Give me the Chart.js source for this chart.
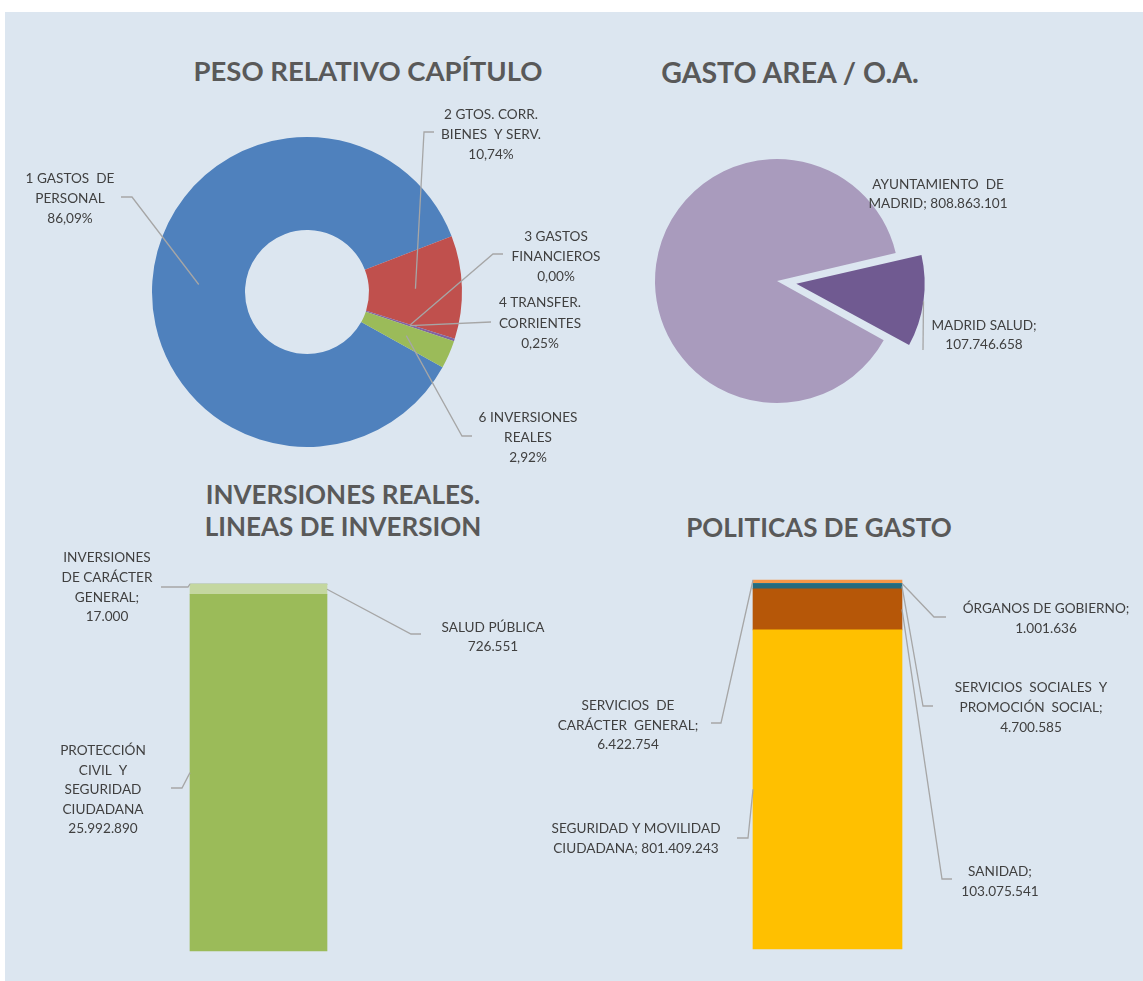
<!DOCTYPE html>
<html>
<head>
<meta charset="utf-8">
<script src="https://cdn.jsdelivr.net/npm/chart.js@4.4.0/dist/chart.umd.min.js"></script>
<style>
  body { margin: 0; width: 1143px; height: 981px; overflow: hidden; background: #fff; position: relative; }
  #panel { position: absolute; left: 5px; top: 12px; right: 0; bottom: 0; background: #dce6f0; }
  canvas { position: absolute; }
  .titulo { position: absolute; width: 500px; font: 700 27.5px Lato, sans-serif; line-height: 32px;
            color: #595959; text-align: center; white-space: nowrap; }
</style>
</head>
<body>
<div id="panel"></div>

<div class="titulo" style="left:118px;top:55px">PESO RELATIVO CAPÍTULO</div>
<div class="titulo" style="left:540px;top:56px;font-size:28.5px">GASTO AREA / O.A.</div>
<div class="titulo" style="left:93px;top:478px;font-size:26px">INVERSIONES REALES.<br>LINEAS DE INVERSION</div>
<div class="titulo" style="left:569px;top:511px;font-size:26px">POLITICAS DE GASTO</div>

<canvas id="capitulo" width="600" height="475" style="left:0;top:0"></canvas>
<canvas id="area" width="543" height="475" style="left:600px;top:0"></canvas>
<canvas id="inversion" width="570" height="506" style="left:0;top:475px"></canvas>
<canvas id="politicas" width="603" height="506" style="left:540px;top:475px"></canvas>

<script>
// peso relativo por capítulo (%)
const capitulos = ['1 GASTOS  DE\nPERSONAL', '2 GTOS. CORR.\nBIENES  Y SERV.', '3 GASTOS\nFINANCIEROS',
                   '4 TRANSFER.\nCORRIENTES', '6 INVERSIONES\nREALES'];
const pesoCapitulo = [86.09, 10.74, 0.00, 0.25, 2.92];
const coloresCapitulo = ['#4f81bd', '#c0504d', '#9bbb59', '#8064a2', '#9bbb59'];

// gasto por área / organismo autónomo
const areas = ['AYUNTAMIENTO  DE\nMADRID;', 'MADRID SALUD;'];
const gastoArea = [808863101, 107746658];
const coloresArea = ['#a99bbd', '#705a91'];

// inversiones reales por línea
const lineas = ['PROTECCIÓN\nCIVIL  Y\nSEGURIDAD\nCIUDADANA', 'SALUD PÚBLICA', 'INVERSIONES\nDE CARÁCTER\nGENERAL;'];
const importeLinea = [25992890, 726551, 17000];
const coloresLinea = ['#9bbb59', '#c4d7a0', '#77933c'];

// políticas de gasto (de abajo a arriba en la barra)
const politicas = ['SEGURIDAD Y MOVILIDAD\nCIUDADANA;', 'SANIDAD;', 'SERVICIOS  SOCIALES  Y\nPROMOCIÓN  SOCIAL;',
                   'ÓRGANOS DE GOBIERNO;', 'SERVICIOS  DE\nCARÁCTER  GENERAL;'];
const gastoPolitica = [801409243, 103075541, 4700585, 1001636, 6422754];
const coloresPolitica = ['#ffc000', '#b65708', '#276a7c', '#31859c', '#f79646'];
// tramos muy finos: altura mínima visible en píxeles
const minimoPolitica = [0, 0, 5, 0, 4];

const miles = v => String(Math.round(v)).replace(/\B(?=(\d{3})+(?!\d))/g, '.');
const pct = v => v.toFixed(2).replace('.', ',') + '%';
const lineasDe = (nombre, valor, sep) => (nombre + sep + valor).split('\n');
const suma = arr => arr.reduce((a, b) => a + b, 0);

// rótulos con línea guía: ancla en el elemento, quiebro y texto en coordenadas de página
const guias = {
  id: 'guias',
  afterDatasetsDraw(chart, args, opts) {
    const ctx = chart.ctx;
    const ox = opts.origin[0], oy = opts.origin[1];
    ctx.save();
    opts.items.forEach(function (it) {
      const meta = chart.getDatasetMeta(it.dataset || 0);
      const el = meta.data[it.index || 0];
      let p;
      if (meta.type === 'bar') {
        const half = el.width / 2;
        p = { x: it.edge === 'left' ? el.x - half : el.x + half,
              y: it.at === 'top' ? el.y : (el.y + el.base) / 2 };
      } else if (it.at === 'outer') {
        const mid = (el.startAngle + el.endAngle) / 2;
        const shift = (el.options.offset || 0) / 4 * (2 - Math.sin(Math.min(Math.PI, el.circumference)));
        const r = el.outerRadius + shift;
        p = { x: el.x + Math.cos(mid) * r, y: el.y + Math.sin(mid) * r };
      } else {
        p = el.getCenterPoint();
      }
      if (it.path) {
        ctx.strokeStyle = '#a6a6a6';
        ctx.lineWidth = 1.3;
        ctx.beginPath();
        ctx.moveTo(p.x, p.y);
        it.path.forEach(q => ctx.lineTo(q[0] - ox, q[1] - oy));
        ctx.stroke();
      }
      ctx.fillStyle = '#404040';
      ctx.font = '13.6px Lato, sans-serif';
      ctx.textAlign = 'center';
      ctx.textBaseline = 'middle';
      it.text.forEach((t, i) => ctx.fillText(t, it.pos[0] - ox, it.pos[1] - oy + i * (it.lh || 20)));
    });
    ctx.restore();
  }
};

const base = {
  responsive: false,
  animation: false,
  events: [],
  plugins: { legend: { display: false }, tooltip: { enabled: false } }
};

new Chart(document.getElementById('capitulo'), {
  type: 'doughnut',
  data: {
    labels: capitulos,
    datasets: [{ data: pesoCapitulo, backgroundColor: coloresCapitulo, borderWidth: 0, hoverOffset: 0 }]
  },
  options: Object.assign({}, base, {
    cutout: '40%',
    rotation: 119,
    layout: { padding: { left: 152, right: 138, top: 137, bottom: 28 } },
    plugins: Object.assign({}, base.plugins, {
      guias: {
        origin: [0, 0],
        items: [
          { index: 0, path: [[132, 197], [121, 197]], pos: [70, 179], text: lineasDe(capitulos[0], pct(pesoCapitulo[0]), '\n') },
          { index: 1, path: [[424, 132], [434, 132]], pos: [491, 115], text: lineasDe(capitulos[1], pct(pesoCapitulo[1]), '\n') },
          { index: 2, path: [[493, 254], [503, 254]], pos: [556, 237], text: lineasDe(capitulos[2], pct(pesoCapitulo[2]), '\n') },
          { index: 3, path: [[491, 322]], pos: [540, 303], text: lineasDe(capitulos[3], pct(pesoCapitulo[3]), '\n'), lh: 20.5 },
          { index: 4, path: [[462, 436], [472, 436]], pos: [528, 418], text: lineasDe(capitulos[4], pct(pesoCapitulo[4]), '\n') }
        ]
      }
    })
  }),
  plugins: [guias]
});

new Chart(document.getElementById('area'), {
  type: 'pie',
  data: {
    labels: areas,
    datasets: [{ data: gastoArea, backgroundColor: coloresArea, borderWidth: 0, hoverOffset: 0, offset: [0, 78] }]
  },
  options: Object.assign({}, base, {
    rotation: 119,
    layout: { padding: { left: 16, right: 205, top: 120, bottom: 33 } },
    plugins: Object.assign({}, base.plugins, {
      guias: {
        origin: [600, 0],
        items: [
          { index: 0, pos: [938, 185], text: lineasDe(areas[0], miles(gastoArea[0]), ' '), lh: 19 },
          { index: 1, at: 'outer', path: [[923, 350]], pos: [984, 326], text: lineasDe(areas[1], miles(gastoArea[1]), '\n'), lh: 19 }
        ]
      }
    })
  }),
  plugins: [guias]
});

function barras(canvasId, nombres, valores, colores, minimos, padding, origin, items) {
  return new Chart(document.getElementById(canvasId), {
    type: 'bar',
    data: {
      labels: [''],
      datasets: valores.map((v, i) => ({
        label: nombres[i], data: [v], backgroundColor: colores[i],
        borderWidth: 0, barPercentage: 1, categoryPercentage: 1,
        minBarLength: minimos ? minimos[i] : 0, clip: false
      }))
    },
    options: Object.assign({}, base, {
      layout: { padding: padding },
      scales: {
        x: { stacked: true, display: false },
        y: { stacked: true, display: false, min: 0, max: suma(valores) }
      },
      plugins: Object.assign({}, base.plugins, { guias: { origin: origin, items: items } })
    }),
    plugins: [guias]
  });
}

barras('inversion', lineas, importeLinea, coloresLinea, null,
  { left: 190, right: 243, top: 109, bottom: 30 }, [0, 475], [
    { dataset: 0, edge: 'left', path: [[182, 788], [171, 788]], pos: [103, 751], text: lineasDe(lineas[0], miles(importeLinea[0]), '\n'), lh: 19.5 },
    { dataset: 1, edge: 'right', path: [[411, 634], [421, 634]], pos: [493, 628], text: lineasDe(lineas[1], miles(importeLinea[1]), '\n'), lh: 19 },
    { dataset: 2, edge: 'left', at: 'top', path: [[188, 587], [161, 587]], pos: [107, 558], text: lineasDe(lineas[2], miles(importeLinea[2]), '\n'), lh: 19.7 }
  ]);

barras('politicas', politicas, gastoPolitica, coloresPolitica, minimoPolitica,
  { left: 213, right: 241, top: 109, bottom: 32 }, [540, 475], [
    { dataset: 0, edge: 'left', path: [[748, 838], [737, 838]], pos: [636, 829], text: lineasDe(politicas[0], miles(gastoPolitica[0]), ' '), lh: 19.5 },
    { dataset: 1, edge: 'right', path: [[942, 879], [952, 879]], pos: [1000, 872], text: lineasDe(politicas[1], miles(gastoPolitica[1]), '\n'), lh: 19.5 },
    { dataset: 2, edge: 'right', path: [[923, 706], [933, 706]], pos: [1031, 688], text: lineasDe(politicas[2], miles(gastoPolitica[2]), '\n'), lh: 20 },
    { dataset: 3, edge: 'right', at: 'top', path: [[934, 617], [946, 617]], pos: [1046, 609], text: lineasDe(politicas[3], miles(gastoPolitica[3]), '\n'), lh: 19.5 },
    { dataset: 4, edge: 'left', at: 'top', path: [[721, 723], [711, 723]], pos: [628, 706], text: lineasDe(politicas[4], miles(gastoPolitica[4]), '\n'), lh: 19.5 }
  ]);
</script>
</body>
</html>
